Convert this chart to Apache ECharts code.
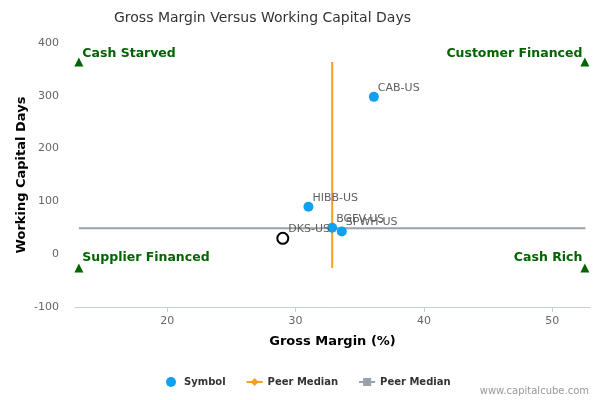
<!DOCTYPE html>
<html>
<head>
<meta charset="utf-8">
<script src="https://cdn.jsdelivr.net/npm/echarts@6/dist/echarts.min.js"></script>
<style>html,body{margin:0;padding:0;background:#fff}#c{width:600px;height:400px}</style>
</head>
<body>
<div id="c"></div>
<script>
// Companies: [gross margin %, working capital days]
const symbols = ['CAB-US', 'HIBB-US', 'BGFV-US', 'SPWH-US', 'DKS-US'];
const grossMargin = [36.1, 31.0, 32.85, 33.6, 29.0];
const workingCapitalDays = [298, 90, 50, 43, 30];
const highlighted = 'DKS-US';

// Peer medians
const peerMedianX = 32.85;
const peerMedianY = 49.3;
const medianYRange = [-26, 364];
const medianXRange = [13.1, 52.6];

// Quadrant markers
const quadrantNames = ['Cash Starved', 'Customer Financed', 'Supplier Financed', 'Cash Rich'];
const quadrantX = [13.1, 52.55, 13.1, 52.55];
const quadrantY = [364, 364, -26, -26];

const xTicks = [20, 30, 40, 50];

const font = 'DejaVu Sans';
const chart = echarts.init(document.getElementById('c'));

const pointData = symbols.map((s, i) => {
  const item = { name: s, value: [grossMargin[i], workingCapitalDays[i]] };
  if (s === highlighted) {
    item.itemStyle = { color: '#ffffff', borderColor: '#000000', borderWidth: 2 };
    item.symbolSize = 11;
  }
  return item;
});

const quadData = quadrantNames.map((n, i) => {
  const right = quadrantX[i] > 30;
  return {
    name: n,
    value: [quadrantX[i], quadrantY[i]],
    label: {
      show: true,
      position: right ? 'left' : 'right',
      distance: 0,
      offset: [right ? 2 : -1, quadrantY[i] > 0 ? -8 : -10],
      formatter: n
    }
  };
});

chart.setOption({
  animation: false,
  title: {
    text: 'Gross Margin Versus Working Capital Days',
    left: 109, top: 6,
    textStyle: { fontFamily: font, fontSize: 14, fontWeight: 'normal', color: '#333333' }
  },
  grid: { left: 75, right: 10, top: 43, bottom: 93 },
  legend: {
    data: ['Symbol', 'Peer Median', 'Peer Median\u200B'],
    left: 161, top: 372,
    itemWidth: 16, itemHeight: 10, itemGap: 20,
    textStyle: { fontFamily: font, fontSize: 10, fontWeight: 'bold', color: '#333333' }
  },
  xAxis: {
    type: 'value', min: 12.8, max: 52.95,
    name: 'Gross Margin (%)', nameLocation: 'middle', nameGap: 28,
    nameMoveOverlap: false,
    nameTextStyle: { fontFamily: font, fontSize: 13, fontWeight: 'bold', color: '#000000' },
    axisLine: { show: true, onZero: false, lineStyle: { color: '#C0D0E0', width: 1 } },
    axisTick: { show: true, length: 5, lineStyle: { color: '#C0D0E0' }, customValues: xTicks },
    axisLabel: { customValues: xTicks, fontFamily: font, fontSize: 11, color: '#666666', margin: 9 },
    splitLine: { show: false }
  },
  yAxis: {
    type: 'value', min: -100, max: 400, interval: 100,
    name: 'Working Capital Days', nameLocation: 'middle', nameGap: 47,
    nameMoveOverlap: false,
    nameTextStyle: { fontFamily: font, fontSize: 13, fontWeight: 'bold', color: '#000000' },
    axisLine: { show: false }, axisTick: { show: false },
    axisLabel: { fontFamily: font, fontSize: 11, color: '#666666', margin: 16 },
    splitLine: { show: false }
  },
  graphic: [{
    type: 'text', right: 11, top: 386,
    style: { text: 'www.capitalcube.com', fontFamily: font, fontSize: 10, fill: '#999999' }
  }],
  series: [
    {
      name: 'Peer Median', type: 'line', symbol: 'diamond', symbolSize: 8, showSymbol: false,
      data: medianYRange.map(v => [peerMedianX, v]),
      itemStyle: { color: '#F8A01C' }, lineStyle: { color: '#F8A01C', width: 2 }, z: 2
    },
    {
      name: 'Peer Median\u200B', type: 'line', symbol: 'rect', symbolSize: 8, showSymbol: false,
      data: medianXRange.map(v => [v, peerMedianY]),
      itemStyle: { color: '#9AA1AD' }, lineStyle: { color: '#9AA1AD', width: 2 }, z: 2
    },
    {
      name: 'Symbol', type: 'scatter', symbolSize: 10, z: 3,
      itemStyle: { color: '#10A0F0', opacity: 1 },
      data: pointData,
      label: {
        show: true, position: 'right', distance: 0, offset: [-1, -9],
        formatter: p => p.name,
        fontFamily: font, fontSize: 11, color: '#606060'
      }
    },
    {
      name: 'Quadrants', type: 'scatter', symbol: 'triangle', symbolSize: 9, z: 3,
      itemStyle: { color: '#006400', opacity: 1 },
      label: { fontFamily: font, fontSize: 12.5, fontWeight: 'bold', color: '#006400' },
      data: quadData
    }
  ]
});
</script>
</body>
</html>
